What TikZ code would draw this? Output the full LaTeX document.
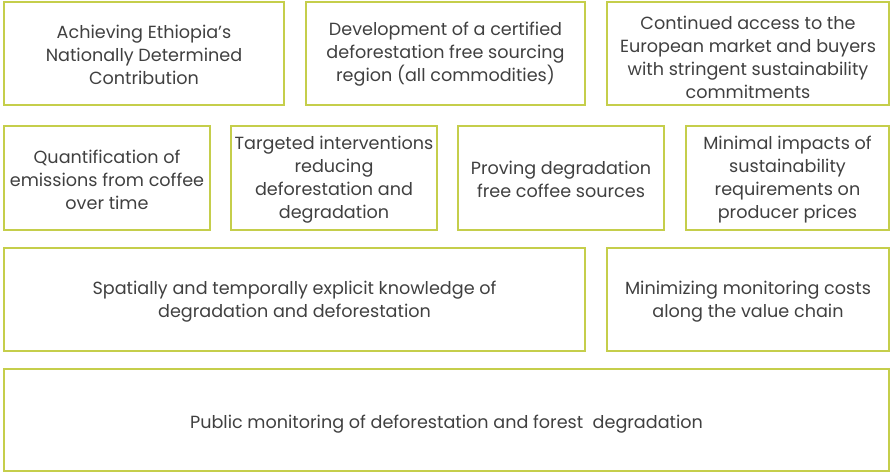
\documentclass[tikz,border=0pt]{standalone}
\usepackage{fontspec}
\setmainfont{Poppins}
\definecolor{boxline}{HTML}{C5CE4B}
\definecolor{boxtext}{HTML}{404040}
\begin{document}
\begin{tikzpicture}[x=1pt,y=-1pt,
  box/.style={draw=boxline, line width=2pt, rectangle, inner sep=0pt},
  txt/.style={inner sep=0pt, align=center, text=boxtext, font=\fontsize{17.6}{23}\selectfont}]
\useasboundingbox (0,0) rectangle (891,474);
% row 1
\node[box, minimum width=280pt, minimum height=103pt] (a1) at (144,53.5) {};
\node[box, minimum width=279pt, minimum height=103pt] (a2) at (445.5,53.5) {};
\node[box, minimum width=282pt, minimum height=103pt] (a3) at (748,53.5) {};
\node[txt] (a1t) at ([yshift=-1pt]a1.center) {Achieving Ethiopia's\\Nationally Determined\\Contribution};
\node[txt] (a2t) at ([yshift=-1pt]a2.center) {Development of a certified\\deforestation free sourcing\\region (all commodities)};
\node[txt] (a3t) at ([yshift=-3.5pt]a3.center) {Continued access to the\\European market and buyers\\with stringent sustainability\\commitments};
% row 2
\node[box, minimum width=206pt, minimum height=104pt] (b1) at (107,178) {};
\node[box, minimum width=206pt, minimum height=104pt] (b2) at (334,178) {};
\node[box, minimum width=206pt, minimum height=104pt] (b3) at (561,178) {};
\node[box, minimum width=203pt, minimum height=104pt] (b4) at (787.5,178) {};
\node[txt] (b1t) at ([yshift=-2pt]b1.center) {Quantification of\\emissions from coffee\\over time};
\node[txt] (b2t) at ([yshift=-1.5pt]b2.center) {Targeted interventions\\reducing\\deforestation and\\degradation};
\node[txt] (b3t) at ([yshift=-1.5pt]b3.center) {Proving degradation\\free coffee sources};
\node[txt] (b4t) at ([yshift=-1.5pt]b4.center) {Minimal impacts of\\sustainability\\requirements on\\producer prices};
% row 3
\node[box, minimum width=581pt, minimum height=103pt] (c1) at (294.5,299.5) {};
\node[box, minimum width=282pt, minimum height=103pt] (c2) at (748,299.5) {};
\node[txt] (c1t) at ([yshift=-2pt]c1.center) {Spatially and temporally explicit knowledge of\\degradation and deforestation};
\node[txt] (c2t) at ([yshift=-2pt]c2.center) {Minimizing monitoring costs\\along the value chain};
% row 4
\node[box, minimum width=885pt, minimum height=102pt] (d1) at (446.5,420) {};
\node[txt] (d1t) at ([yshift=-4.5pt]d1.center) {Public monitoring of deforestation and forest\ \ degradation};
\end{tikzpicture}
\end{document}
